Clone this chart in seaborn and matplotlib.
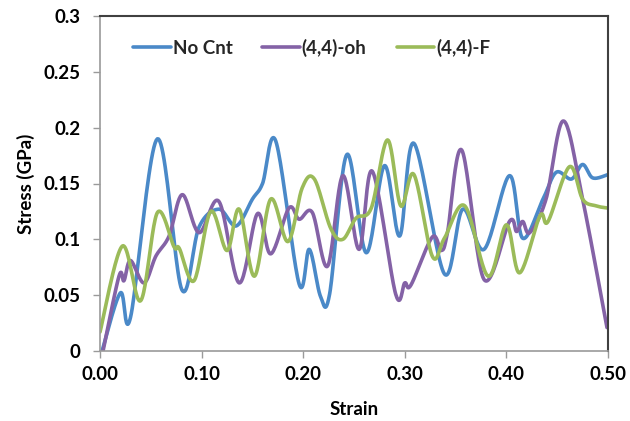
import numpy as np
import pandas as pd
import matplotlib
matplotlib.use("Agg")
import matplotlib.pyplot as plt
import seaborn as sns

# ---- data ----
series_names = ["No Cnt", "(4,4)-oh", "(4,4)-F"]

nocnt_x = [0.002, 0.020, 0.030, 0.0565, 0.0805, 0.0975, 0.117, 0.134, 0.150, 0.160, 0.173,
           0.196, 0.206, 0.217, 0.226, 0.243, 0.262, 0.280, 0.295, 0.309, 0.339, 0.357,
           0.378, 0.403, 0.416, 0.436, 0.449, 0.464, 0.475, 0.485, 0.500]
nocnt_y = [0.000, 0.052, 0.030, 0.190, 0.055, 0.111, 0.127, 0.112, 0.136, 0.150, 0.188,
           0.060, 0.091, 0.049, 0.051, 0.176, 0.088, 0.166, 0.103, 0.186, 0.069, 0.127,
           0.091, 0.157, 0.101, 0.136, 0.160, 0.154, 0.167, 0.155, 0.158]

oh_x = [0.003, 0.0187, 0.0236, 0.030, 0.0433, 0.055, 0.068, 0.081, 0.0975, 0.117, 0.137,
        0.155, 0.168, 0.186, 0.196, 0.209, 0.224, 0.239, 0.255, 0.268, 0.291, 0.300,
        0.306, 0.327, 0.336, 0.342, 0.356, 0.378, 0.403, 0.410, 0.416, 0.423, 0.439,
        0.456, 0.475, 0.499]
oh_y = [0.000, 0.067, 0.063, 0.081, 0.061, 0.085, 0.103, 0.140, 0.106, 0.134, 0.061,
        0.123, 0.087, 0.128, 0.118, 0.124, 0.076, 0.157, 0.091, 0.161, 0.051, 0.061,
        0.059, 0.102, 0.090, 0.106, 0.180, 0.064, 0.116, 0.107, 0.116, 0.106, 0.136,
        0.206, 0.136, 0.021]

f_x = [0.000, 0.022, 0.040, 0.0565, 0.073, 0.078, 0.0926, 0.109, 0.125, 0.137, 0.152, 0.168,
       0.185, 0.199, 0.211, 0.227, 0.239, 0.252, 0.267, 0.283, 0.296, 0.309, 0.327,
       0.339, 0.359, 0.382, 0.400, 0.413, 0.433, 0.441, 0.462, 0.475, 0.488, 0.500]
f_y = [0.017, 0.094, 0.045, 0.124, 0.093, 0.092, 0.063, 0.125, 0.090, 0.127, 0.067, 0.136,
       0.098, 0.146, 0.154, 0.110, 0.100, 0.119, 0.128, 0.189, 0.130, 0.158, 0.085,
       0.101, 0.130, 0.067, 0.113, 0.070, 0.121, 0.116, 0.165, 0.136, 0.130, 0.128]

colors = ["#4A89C8", "#8462A6", "#9BBB59"]
x_ticks = [0.0, 0.1, 0.2, 0.3, 0.4, 0.5]
y_ticks = [0, 0.05, 0.1, 0.15, 0.2, 0.25, 0.3]
y_tick_labels = ["0", "0.05", "0.1", "0.15", "0.2", "0.25", "0.3"]


def smoothed(xs, ys, n=24, sx=508 / 0.5, sy=335 / 0.3):
    """Excel-style smoothed line (Bezier with Catmull-Rom control points) for rendering."""
    P = np.column_stack([np.asarray(xs) * sx, np.asarray(ys) * sy])
    out = []
    t = np.linspace(0, 1, n)
    for i in range(len(P) - 1):
        p0 = P[i - 1] if i > 0 else P[i]
        p1 = P[i]
        p2 = P[i + 1]
        p3 = P[i + 2] if i + 2 < len(P) else P[i + 1]
        c1 = p1 + (p2 - p0) / 6.0
        c2 = p2 - (p3 - p1) / 6.0
        seg = ((1 - t)[:, None] ** 3 * p1 + 3 * ((1 - t) ** 2 * t)[:, None] * c1
               + 3 * ((1 - t) * t ** 2)[:, None] * c2 + (t ** 3)[:, None] * p2)
        out.append(seg if i == 0 else seg[1:])
    C = np.vstack(out)
    return C[:, 0] / sx, C[:, 1] / sy


frames = []
for name, xs, ys in zip(series_names, [nocnt_x, oh_x, f_x], [nocnt_y, oh_y, f_y]):
    sxv, syv = smoothed(xs, ys)
    frames.append(pd.DataFrame({"Strain": sxv, "Stress": syv, "series": name}))
df = pd.concat(frames, ignore_index=True)

sns.set_theme(style="white")
plt.rcParams["font.family"] = ["Lato", "DejaVu Sans"]

fig, ax = plt.subplots(figsize=(6.30, 4.21), dpi=100)
fig.subplots_adjust(left=100 / 630, right=608 / 630, top=1 - 16 / 421, bottom=1 - 351 / 421)

sns.lineplot(data=df, x="Strain", y="Stress", hue="series", hue_order=series_names,
             palette=colors, sort=False, estimator=None, units="series",
             linewidth=2.6, ax=ax)

FS = 13.5
ax.set_xlim(0, 0.5)
ax.set_ylim(0, 0.3)
ax.set_xticks(x_ticks)
ax.set_xticklabels([f"{v:.2f}" for v in x_ticks])
ax.set_yticks(y_ticks)
ax.set_yticklabels(y_tick_labels)
ax.tick_params(axis="both", which="both", direction="out", length=5, width=1,
               color="#9a9a9a", labelsize=FS, bottom=True, left=True)
ax.tick_params(axis="y", pad=9)
ax.tick_params(axis="x", pad=6)
for lab in ax.get_xticklabels() + ax.get_yticklabels():
    lab.set_fontweight("bold")
    lab.set_color("black")

ax.set_xlabel("Strain", fontsize=FS, fontweight="bold", labelpad=13, color="black")
ax.set_ylabel("Stress (GPa)", fontsize=FS, fontweight="bold", labelpad=6, color="black")

for side in ["left", "bottom"]:
    ax.spines[side].set_color("#9a9a9a")
    ax.spines[side].set_linewidth(1.2)
for side in ["top", "right"]:
    ax.spines[side].set_color("#404040")
    ax.spines[side].set_linewidth(1.5)
    ax.spines[side].set_visible(True)

handles, labels = ax.get_legend_handles_labels()
ax.legend(handles, labels, loc="center left", bbox_to_anchor=(0.032, 0.905), ncol=3,
          frameon=False, handlelength=2.0, handletextpad=0.1, columnspacing=1.6,
          prop={"weight": "bold", "size": FS})

fig.savefig("out.png", dpi=100)
